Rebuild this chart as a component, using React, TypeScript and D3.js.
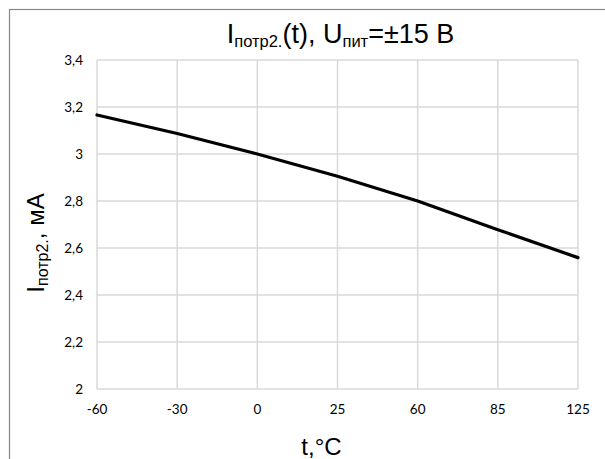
import React from "react";
import * as d3 from "d3";

const categories = ["-60", "-30", "0", "25", "60", "85", "125"];
const currentValues = [3.166, 3.087, 3.0, 2.905, 2.8, 2.678, 2.559];
const yTicks = [2, 2.2, 2.4, 2.6, 2.8, 3, 3.2, 3.4];

const W = 605;
const H = 459;
const plot = { left: 97, right: 578, top: 60, bottom: 389 };

const fmt = (v: number) => String(v).replace(".", ",");

export default function App() {
  const x = d3
    .scalePoint<string>()
    .domain(categories)
    .range([plot.left, plot.right]);
  const y = d3.scaleLinear().domain([2, 3.4]).range([plot.bottom, plot.top]);

  const line = d3
    .line<number>()
    .x((_, i) => x(categories[i]) as number)
    .y((d) => y(d))
    .curve(d3.curveLinear);

  const tickFont = "Lato, 'Open Sans', sans-serif";
  const titleFont = "'Liberation Sans', Arial, sans-serif";

  return (
    <svg
      width={W}
      height={H}
      style={{ position: "absolute", left: 0, top: 0, background: "#fff" }}
    >
      <rect x={0} y={0} width={W} height={H} fill="#fff" />
      {/* chart frame */}
      <rect
        x={9.5}
        y={9.5}
        width={W + 20}
        height={H + 20}
        fill="none"
        stroke="#878787"
        strokeWidth={1.2}
      />

      {/* horizontal grid */}
      {yTicks.map((t) => (
        <line
          key={"h" + t}
          x1={plot.left}
          x2={plot.right}
          y1={y(t)}
          y2={y(t)}
          stroke="#d9d9d9"
          strokeWidth={1.5}
        />
      ))}
      {/* vertical grid */}
      {categories.map((c) => (
        <line
          key={"v" + c}
          x1={x(c)}
          x2={x(c)}
          y1={plot.top}
          y2={plot.bottom}
          stroke="#d9d9d9"
          strokeWidth={1.5}
        />
      ))}

      {/* y tick labels */}
      {yTicks.map((t) => (
        <text
          key={"yl" + t}
          x={83}
          y={y(t)}
          dy="0.36em"
          textAnchor="end"
          fontFamily={tickFont}
          fontSize={13.5}
          fill="#000"
        >
          {fmt(t)}
        </text>
      ))}

      {/* x tick labels */}
      {categories.map((c) => (
        <text
          key={"xl" + c}
          x={x(c)}
          y={414}
          textAnchor="middle"
          fontFamily={tickFont}
          fontSize={13.5}
          fill="#000"
        >
          {c}
        </text>
      ))}

      {/* data line */}
      <path
        d={line(currentValues) ?? ""}
        fill="none"
        stroke="#000"
        strokeWidth={3.2}
        strokeLinejoin="round"
        strokeLinecap="round"
      />

      {/* chart title */}
      <text
        x={340.5}
        y={42.5}
        textAnchor="middle"
        fontFamily={titleFont}
        fontSize={27}
        fill="#000"
      >
        <tspan>I</tspan>
        <tspan fontSize={16.5} dy={4}>
          потр2.
        </tspan>
        <tspan dy={-4}>(t), U</tspan>
        <tspan fontSize={16.5} dy={4}>
          пит
        </tspan>
        <tspan dy={-4}>=±15 В</tspan>
      </text>

      {/* y axis title */}
      <text
        transform={`translate(43.5, 243) rotate(-90)`}
        textAnchor="middle"
        fontFamily={titleFont}
        fontSize={24}
        fill="#000"
      >
        <tspan>I</tspan>
        <tspan fontSize={16} dy={4}>
          потр2.
        </tspan>
        <tspan dy={-4}>, мА</tspan>
      </text>

      {/* x axis title */}
      <text
        x={321.5}
        y={455}
        textAnchor="middle"
        fontFamily={titleFont}
        fontSize={24}
        fill="#000"
      >
        t,°C
      </text>
    </svg>
  );
}
